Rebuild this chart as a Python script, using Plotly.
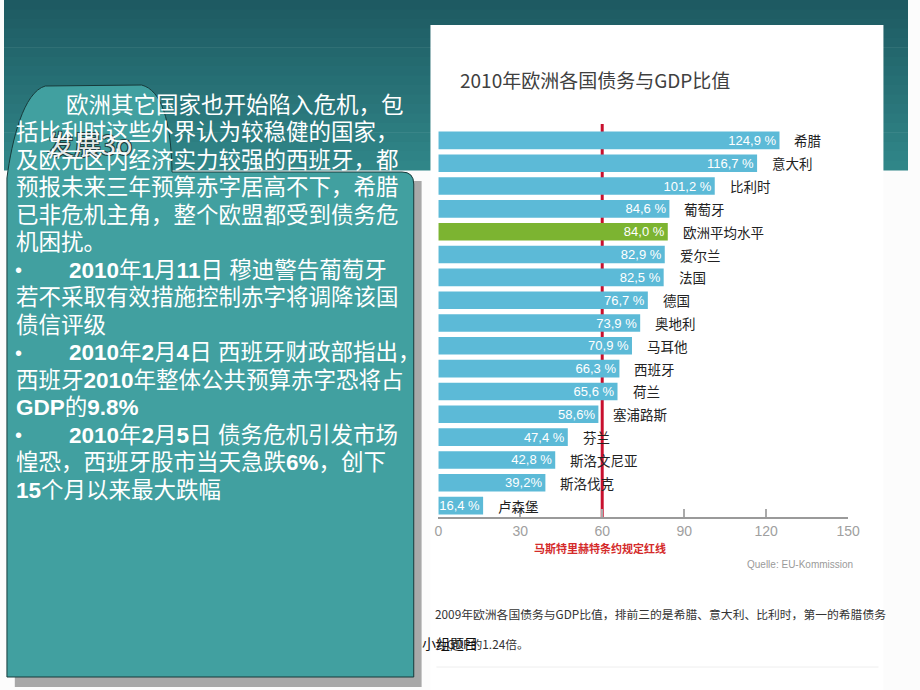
import re
import plotly.graph_objects as go

# ---------------- data ----------------
countries = ["希腊", "意大利", "比利时", "葡萄牙", "欧洲平均水平", "爱尔兰", "法国", "德国",
             "奥地利", "马耳他", "西班牙", "荷兰", "塞浦路斯", "芬兰", "斯洛文尼亚", "斯洛伐克", "卢森堡"]
debt_ratio = [124.9, 116.7, 101.2, 84.6, 84.0, 82.9, 82.5, 76.7,
              73.9, 70.9, 66.3, 65.6, 58.6, 47.4, 42.8, 39.2, 16.4]
value_labels = ["124,9 %", "116,7 %", "101,2 %", "84,6 %", "84,0 %", "82,9 %", "82,5 %", "76,7 %",
                "73,9 %", "70,9 %", "66,3 %", "65,6 %", "58,6%", "47,4 %", "42,8 %", "39,2%", "16,4 %"]
highlight = "欧洲平均水平"
maastricht_limit = 60
x_ticks = [0, 30, 60, 90, 120, 150]

chart_title = "2010年欧洲各国债务与GDP比值"
limit_label = "马斯特里赫特条约规定红线"
source_label = "Quelle: EU-Kommission"
caption_1 = "2009年欧洲各国债务与GDP比值，排前三的是希腊、意大利、比利时，第一的希腊债务"
caption_2 = "为GDP的1.24倍。"
footer_overlay = "小组题目"
tab_title = "发展3o"

panel_lines = [
    ("", "欧洲其它国家也开始陷入危机，包"),
    ("", "括比利时这些外界认为较稳健的国家，"),
    ("", "及欧元区内经济实力较强的西班牙，都"),
    ("", "预报未来三年预算赤字居高不下，希腊"),
    ("", "已非危机主角，整个欧盟都受到债务危"),
    ("", "机困扰。"),
    ("•", "2010年1月11日 穆迪警告葡萄牙"),
    ("", "若不采取有效措施控制赤字将调降该国"),
    ("", "债信评级"),
    ("•", "2010年2月4日 西班牙财政部指出，"),
    ("", "西班牙2010年整体公共预算赤字恐将占"),
    ("", "GDP的9.8%"),
    ("•", "2010年2月5日 债务危机引发市场"),
    ("", "惶恐，西班牙股市当天急跌6%，创下"),
    ("", "15个月以来最大跌幅"),
]

W, H = 920, 690


def X(px):
    return px / W


def Y(py):
    return 1 - py / H


BAR_BLUE = "#5cbad7"
BAR_GREEN = "#7cb431"
bar_colors = [BAR_GREEN if c == highlight else BAR_BLUE for c in countries]

CJK = "Noto Sans CJK SC"
NARROW = "Liberation Sans Narrow, Liberation Sans, Arial"

fig = go.Figure()
fig.add_trace(go.Bar(
    x=debt_ratio, y=countries, orientation="h",
    marker=dict(color=bar_colors, line=dict(width=0)),
    text=value_labels, textposition="inside", insidetextanchor="end",
    textangle=0, textfont=dict(family=NARROW, size=13, color="white"),
    hoverinfo="skip", showlegend=False,
))

shapes = []
# teal gradient band at top
top_c, bot_c = (30, 90, 98), (48, 134, 136)
n = 18
band_h = 170
for i in range(n):
    t = i / (n - 1)
    c = tuple(round(top_c[k] + (bot_c[k] - top_c[k]) * t) for k in range(3))
    y0 = band_h * i / n
    y1 = band_h * (i + 1) / n + 0.6
    shapes.append(dict(type="rect", xref="paper", yref="paper", layer="below",
                       x0=0, x1=1, y0=Y(y1), y1=Y(y0), line=dict(width=0),
                       fillcolor="rgb(%d,%d,%d)" % c))
# white chart picture
shapes.append(dict(type="rect", xref="paper", yref="paper", layer="below",
                   x0=X(434), x1=X(895), y0=Y(690), y1=Y(25), line=dict(width=0),
                   fillcolor="white"))
# faint line in picture
shapes.append(dict(type="line", xref="paper", yref="paper", layer="below",
                   x0=X(440), x1=X(890), y0=Y(667), y1=Y(667),
                   line=dict(color="#eeeeee", width=1)))
# panel shadow
shapes.append(dict(type="rect", xref="paper", yref="paper", layer="below",
                   x0=X(11), x1=X(425), y0=Y(687), y1=Y(181), line=dict(width=0),
                   fillcolor="#a8a8a8"))


def P(px, py):
    return "%.5f,%.5f" % (X(px), Y(py))


folder = ("M " + P(3, 677) + " L " + P(3, 178) +
          " C " + P(8, 140) + " " + P(20, 92) + " " + P(42, 86) +
          " L " + P(140, 85) +
          " C " + P(160, 90) + " " + P(170, 120) + " " + P(171, 172) +
          " L " + P(405, 172) +
          " Q " + P(417, 172) + " " + P(417, 184) +
          " L " + P(417, 677) + " Z")
shapes.append(dict(type="path", xref="paper", yref="paper", layer="below",
                   path=folder, fillcolor="#41a0a0",
                   line=dict(color="#173a3a", width=1)))
# Maastricht red line
shapes.append(dict(type="line", xref="x", yref="paper", layer="below",
                   x0=maastricht_limit, x1=maastricht_limit, y0=Y(518), y1=Y(124),
                   line=dict(color="#c8102e", width=3)))

annotations = []
# overlapping outlined title on the folder tab (drawn first, under the panel text)
annotations.append(dict(x=X(42), y=Y(143), xref="paper", yref="paper", text=tab_title,
                        showarrow=False, xanchor="left", yanchor="middle",
                        font=dict(family=CJK, size=27, color="rgba(255,255,255,0.9)",
                                  shadow="-1px -1px 0 #1d3d3d, 1px -1px 0 #1d3d3d, -1px 1px 0 #1d3d3d, 1px 1px 0 #1d3d3d")))

# country labels outside bars
for c, v in zip(countries, debt_ratio):
    annotations.append(dict(x=v, y=c, xref="x", yref="y", text=c, showarrow=False,
                            xanchor="left", yanchor="middle", xshift=13,
                            font=dict(family=CJK, size=13.5, color="#222222")))

annotations.append(dict(x=X(462), y=Y(79), xref="paper", yref="paper", text=chart_title,
                        showarrow=False, xanchor="left", yanchor="middle",
                        font=dict(family=CJK, size=19, color="#404040")))
annotations.append(dict(x=X(607), y=Y(548), xref="paper", yref="paper", text="<b>" + limit_label + "</b>",
                        showarrow=False, xanchor="center", yanchor="middle",
                        font=dict(family=CJK, size=11, color="#d42a2a")))
annotations.append(dict(x=X(866), y=Y(564), xref="paper", yref="paper", text=source_label,
                        showarrow=False, xanchor="right", yanchor="middle",
                        font=dict(family=NARROW, size=10, color="#9a9a9a")))
annotations.append(dict(x=X(437), y=Y(613), xref="paper", yref="paper", text=caption_1,
                        showarrow=False, xanchor="left", yanchor="middle",
                        font=dict(family=CJK, size=11.8, color="#333333")))
annotations.append(dict(x=X(437), y=Y(643), xref="paper", yref="paper", text=caption_2,
                        showarrow=False, xanchor="left", yanchor="middle",
                        font=dict(family=CJK, size=11.8, color="#333333")))
annotations.append(dict(x=X(423), y=Y(643), xref="paper", yref="paper", text=footer_overlay,
                        showarrow=False, xanchor="left", yanchor="middle",
                        font=dict(family=CJK, size=14, color="#111111")))


def bold_ascii(s):
    return re.sub(r"([0-9A-Za-z.%]+)", r"<b>\1</b>", s)


PANEL_FONT = "Liberation Sans, Arial, " + CJK
for i, (bullet, line) in enumerate(panel_lines):
    yc = 105 + 27.5 * i
    if i == 0:
        x0 = 61
    elif bullet:
        x0 = 64
    else:
        x0 = 10
    if bullet:
        annotations.append(dict(x=X(9), y=Y(yc), xref="paper", yref="paper", text=bullet,
                                showarrow=False, xanchor="left", yanchor="middle",
                                font=dict(family=PANEL_FONT, size=20, color="white")))
    annotations.append(dict(x=X(x0), y=Y(yc), xref="paper", yref="paper", text=bold_ascii(line),
                            showarrow=False, xanchor="left", yanchor="middle",
                            font=dict(family=PANEL_FONT, size=22.5, color="white")))

fig.update_layout(
    width=W, height=H, autosize=False,
    margin=dict(l=0, r=0, t=0, b=0),
    paper_bgcolor="#fcfcfc", plot_bgcolor="rgba(0,0,0,0)",
    bargap=0.23,
    uniformtext=dict(mode="show", minsize=13),
    shapes=shapes, annotations=annotations,
    xaxis=dict(domain=[X(442), X(859)], range=[0, 150], tickvals=x_ticks,
               ticks="inside", ticklen=8, tickwidth=2, tickcolor="#aaaaaa",
               showline=True, linecolor="#9a9a9a", linewidth=2,
               showgrid=False, zeroline=False, fixedrange=True,
               tickfont=dict(family=NARROW, size=14, color="#a0a0a0")),
    yaxis=dict(domain=[Y(517), Y(129)], range=[16.5, -0.5], type="category",
               showticklabels=False, showgrid=False, zeroline=False, showline=False,
               ticks="", fixedrange=True),
    font=dict(family=CJK),
)

page_css = ("var s=document.createElement('style');"
            "s.textContent='html,body{margin:0!important;padding:0!important;overflow:hidden!important;"
            "width:920px!important;height:690px!important;background:#fcfcfc}';"
            "document.head.appendChild(s);")
fig.write_html("out.html",
               config={"displayModeBar": False, "staticPlot": True, "responsive": False},
               post_script=page_css)
